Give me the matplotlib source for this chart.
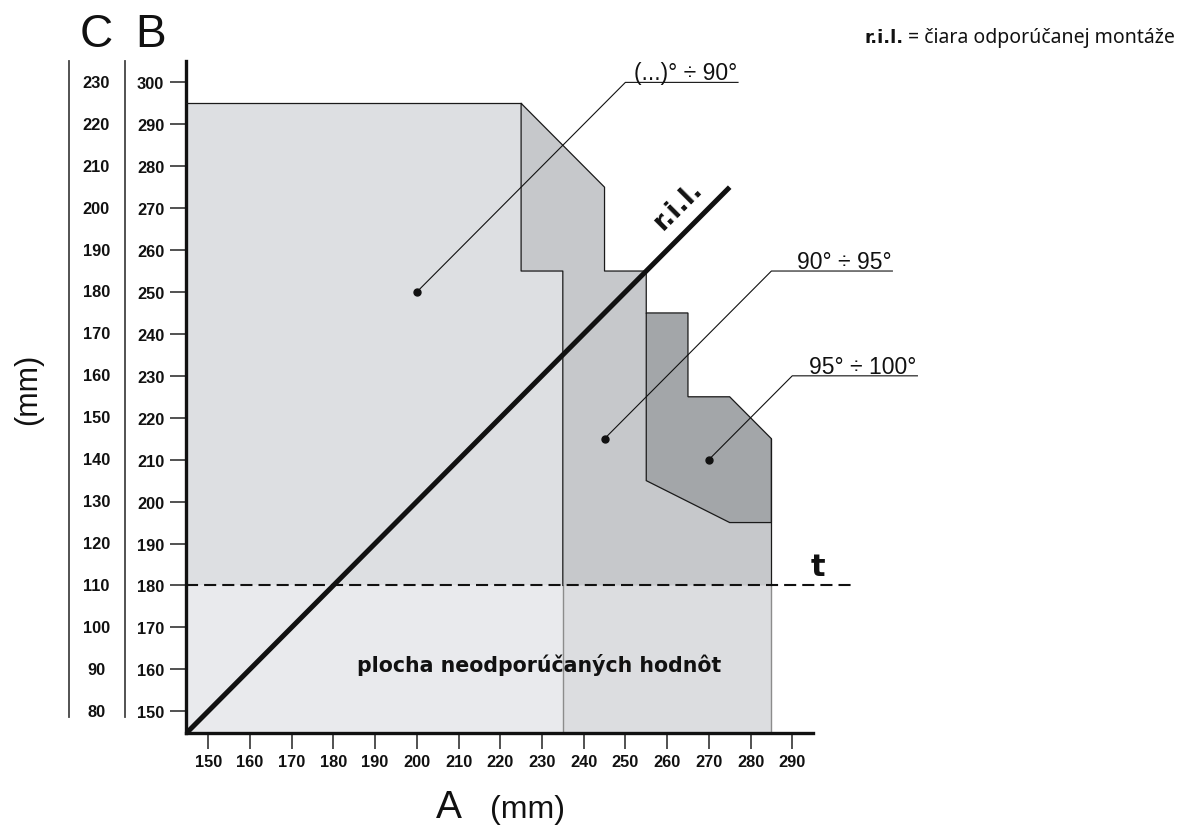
import matplotlib
matplotlib.use("Agg")
import matplotlib.pyplot as plt
from matplotlib.patches import Polygon
from matplotlib.lines import Line2D
import matplotlib.transforms as mtrans

# ---------------- data ----------------
A_TICKS = [150, 160, 170, 180, 190, 200, 210, 220, 230, 240, 250, 260, 270, 280, 290]
B_TICKS = [150, 160, 170, 180, 190, 200, 210, 220, 230, 240, 250, 260, 270, 280, 290, 300]
C_LABELS = [80, 90, 100, 110, 120, 130, 140, 150, 160, 170, 180, 190, 200, 210, 220, 230]

X_MIN, X_MAX = 144.6, 294.9
Y_MIN, Y_MAX = 144.8, 305.1

T_LEVEL = 180          # dashed line "t"
RIL_START = 145        # r.i.l. line from (145,145) ...
RIL_END = 275          # ... to (275,275)

# zone "(...)° ÷ 90°"
ZONE1 = [(X_MIN, 180), (X_MIN, 295), (225, 295), (225, 255), (235, 255), (235, 180)]
ZONE1_EDGE = [(X_MIN, 295), (225, 295)]
# zone "90° ÷ 95°"
ZONE2 = [(225, 295), (245, 275), (245, 255), (255, 255), (255, 245), (265, 245),
         (265, 225), (275, 225), (285, 215), (285, 180), (235, 180), (235, 255), (225, 255)]
ZONE2_EDGE_A = [(235, 180), (235, 255), (225, 255), (225, 295), (245, 275),
                (245, 255), (255, 255), (255, 245)]
ZONE2_EDGE_B = [(285, 215), (285, 180)]
# zone "95° ÷ 100°"
ZONE3 = [(255, 245), (265, 245), (265, 225), (275, 225), (285, 215), (285, 195),
         (275, 195), (255, 205)]
# not recommended area below t
LOW_LEFT = [(X_MIN, Y_MIN), (X_MIN, 180), (235, 180), (235, Y_MIN)]
LOW_RIGHT = [(235, Y_MIN), (235, 180), (285, 180), (285, Y_MIN)]

# leaders: dot, elbow, end, label
LEADERS = [
    ((200, 250), (250, 300), 277, "(...)° ÷ 90°"),
    ((245, 215), (285, 255), 314, "90° ÷ 95°"),
    ((270, 210), (290, 230), 320, "95° ÷ 100°"),
]

# ---------------- figure ----------------
W, H = 1187, 828
fig = plt.figure(figsize=(W / 100, H / 100), dpi=100)
ax = fig.add_axes([185.7 / W, 1 - 734 / H, (812.7 - 185.7) / W, (734 - 62) / H])
ax.set_xlim(X_MIN, X_MAX)
ax.set_ylim(Y_MIN, Y_MAX)

C_LIGHT = "#dddfe2"
C_MED = "#c6c8cb"
C_DARK = "#a3a6a9"
C_LOWL = "#e9eaed"
C_LOWR = "#dcdde0"

ax.add_patch(Polygon(LOW_LEFT, closed=True, facecolor=C_LOWL, edgecolor="none", zorder=1))
ax.add_patch(Polygon(LOW_RIGHT, closed=True, facecolor=C_LOWR, edgecolor="none", zorder=1))
ax.plot([235, 235], [Y_MIN, 180], color="#8c8c8c", lw=1.0, zorder=2)
ax.plot([285, 285], [Y_MIN, 180], color="#8c8c8c", lw=1.0, zorder=2)

ax.add_patch(Polygon(ZONE1, closed=True, facecolor=C_LIGHT, edgecolor="none", zorder=1))
ax.add_patch(Polygon(ZONE2, closed=True, facecolor=C_MED, edgecolor="none", zorder=2))
ax.add_patch(Polygon(ZONE3, closed=True, facecolor=C_DARK, edgecolor="#1a1a1a", lw=0.9, zorder=3))

for pts in (ZONE1_EDGE, ZONE2_EDGE_A, ZONE2_EDGE_B):
    xs, ys = zip(*pts)
    ax.plot(xs, ys, color="#1a1a1a", lw=0.9, zorder=3)

# r.i.l. line
ax.plot([RIL_START, RIL_END], [RIL_START, RIL_END], color="#111111", lw=3.6,
        solid_capstyle="butt", zorder=5, clip_on=False)
ax.text(262.6, 270.9, "r.i.l.", rotation=45, ha="center", va="center",
        fontsize=19, fontweight="bold", family="DejaVu Sans", color="#111111", zorder=6)

# t line
ax.plot([X_MIN, 305], [T_LEVEL, T_LEVEL], color="#111111", lw=1.5,
        dashes=(5.8, 2.9), zorder=4, clip_on=False)
ax.text(296.2, 184.5, "t", ha="center", va="center", fontsize=22, fontweight="bold",
        family="DejaVu Sans", color="#111111", clip_on=False)

# leaders
txt_tr = mtrans.offset_copy(ax.transData, fig=fig, x=-1, y=3, units="dots")
for dot, elbow, xend, label in LEADERS:
    ax.plot([dot[0], elbow[0], xend], [dot[1], elbow[1], elbow[1]],
            color="#111111", lw=0.8, zorder=6, clip_on=False)
    ax.plot([dot[0]], [dot[1]], "o", color="#111111", ms=5, zorder=7)
    ax.text(xend, elbow[1], label, transform=txt_tr, ha="right", va="baseline",
            fontsize=16.5, family="Liberation Sans", color="#111111", clip_on=False)

ax.text(229.3, 161.3, "plocha neodporúčaných hodnôt", ha="center",
        va="center", fontsize=14.8, fontweight="bold", family="DejaVu Sans",
        color="#111111", zorder=6)

# axes styling
for s in ("top", "right"):
    ax.spines[s].set_visible(False)
for s in ("left", "bottom"):
    ax.spines[s].set_linewidth(2.4)
    ax.spines[s].set_color("#111111")
ax.set_xticks(A_TICKS)
ax.set_yticks(B_TICKS)
ax.set_xticklabels([str(v) for v in A_TICKS])
ax.set_yticklabels([str(v) for v in B_TICKS])
ax.tick_params(axis="both", length=11.5, width=1.2, color="#333333", direction="out",
               labelsize=11.8, labelcolor="#111111")
ax.tick_params(axis="x", pad=3.6)
ax.tick_params(axis="y", pad=3.9)
for lab in ax.get_xticklabels() + ax.get_yticklabels():
    lab.set_family("Liberation Sans")
    lab.set_fontweight("bold")

# C scale
ctr = mtrans.blended_transform_factory(fig.transFigure, ax.transData)
for b, c in zip(B_TICKS, C_LABELS):
    fig.text(96.3 / W, b, str(c), transform=ctr, ha="center", va="center",
             fontsize=11.8, fontweight="bold", family="Liberation Sans", color="#111111")

for xp in (69.3, 125.3):
    fig.add_artist(Line2D([xp / W, xp / W], [1 - 62 / H, 1 - 718 / H],
                          color="#444444", lw=1.3, transform=fig.transFigure))

fig.text(95.8 / W, 1 - 47.3 / H, "C", ha="center", va="baseline", fontsize=33,
         family="Liberation Sans", color="#111111")
fig.text(150.8 / W, 1 - 47.3 / H, "B", ha="center", va="baseline", fontsize=33,
         family="Liberation Sans", color="#111111")

fig.text(449 / W, 1 - 818.3 / H, "A", ha="center", va="baseline", fontsize=28,
         family="Liberation Sans", color="#111111")
fig.text(490 / W, 1 - 818.3 / H, "(mm)", ha="left", va="baseline", fontsize=23,
         family="Liberation Sans", color="#111111")
fig.text(28 / W, 1 - 389 / H, "(mm)", ha="center", va="center", rotation=90, fontsize=22,
         family="Liberation Sans", color="#111111")

# top-right note
fig.canvas.draw()
r = fig.canvas.get_renderer()
t_rest = fig.text(1175 / W, 1 - 43 / H, " = čiara odporúčanej montáže", ha="right",
                  va="baseline", fontsize=14, family="Noto Sans", color="#111111")
bb = t_rest.get_window_extent(renderer=r)
fig.text(bb.x0 / W, 1 - 43 / H, "r.i.l.", ha="right", va="baseline", fontsize=13,
         fontweight="bold", family="DejaVu Sans", color="#111111")

fig.savefig("out.png", dpi=100, facecolor="white")
